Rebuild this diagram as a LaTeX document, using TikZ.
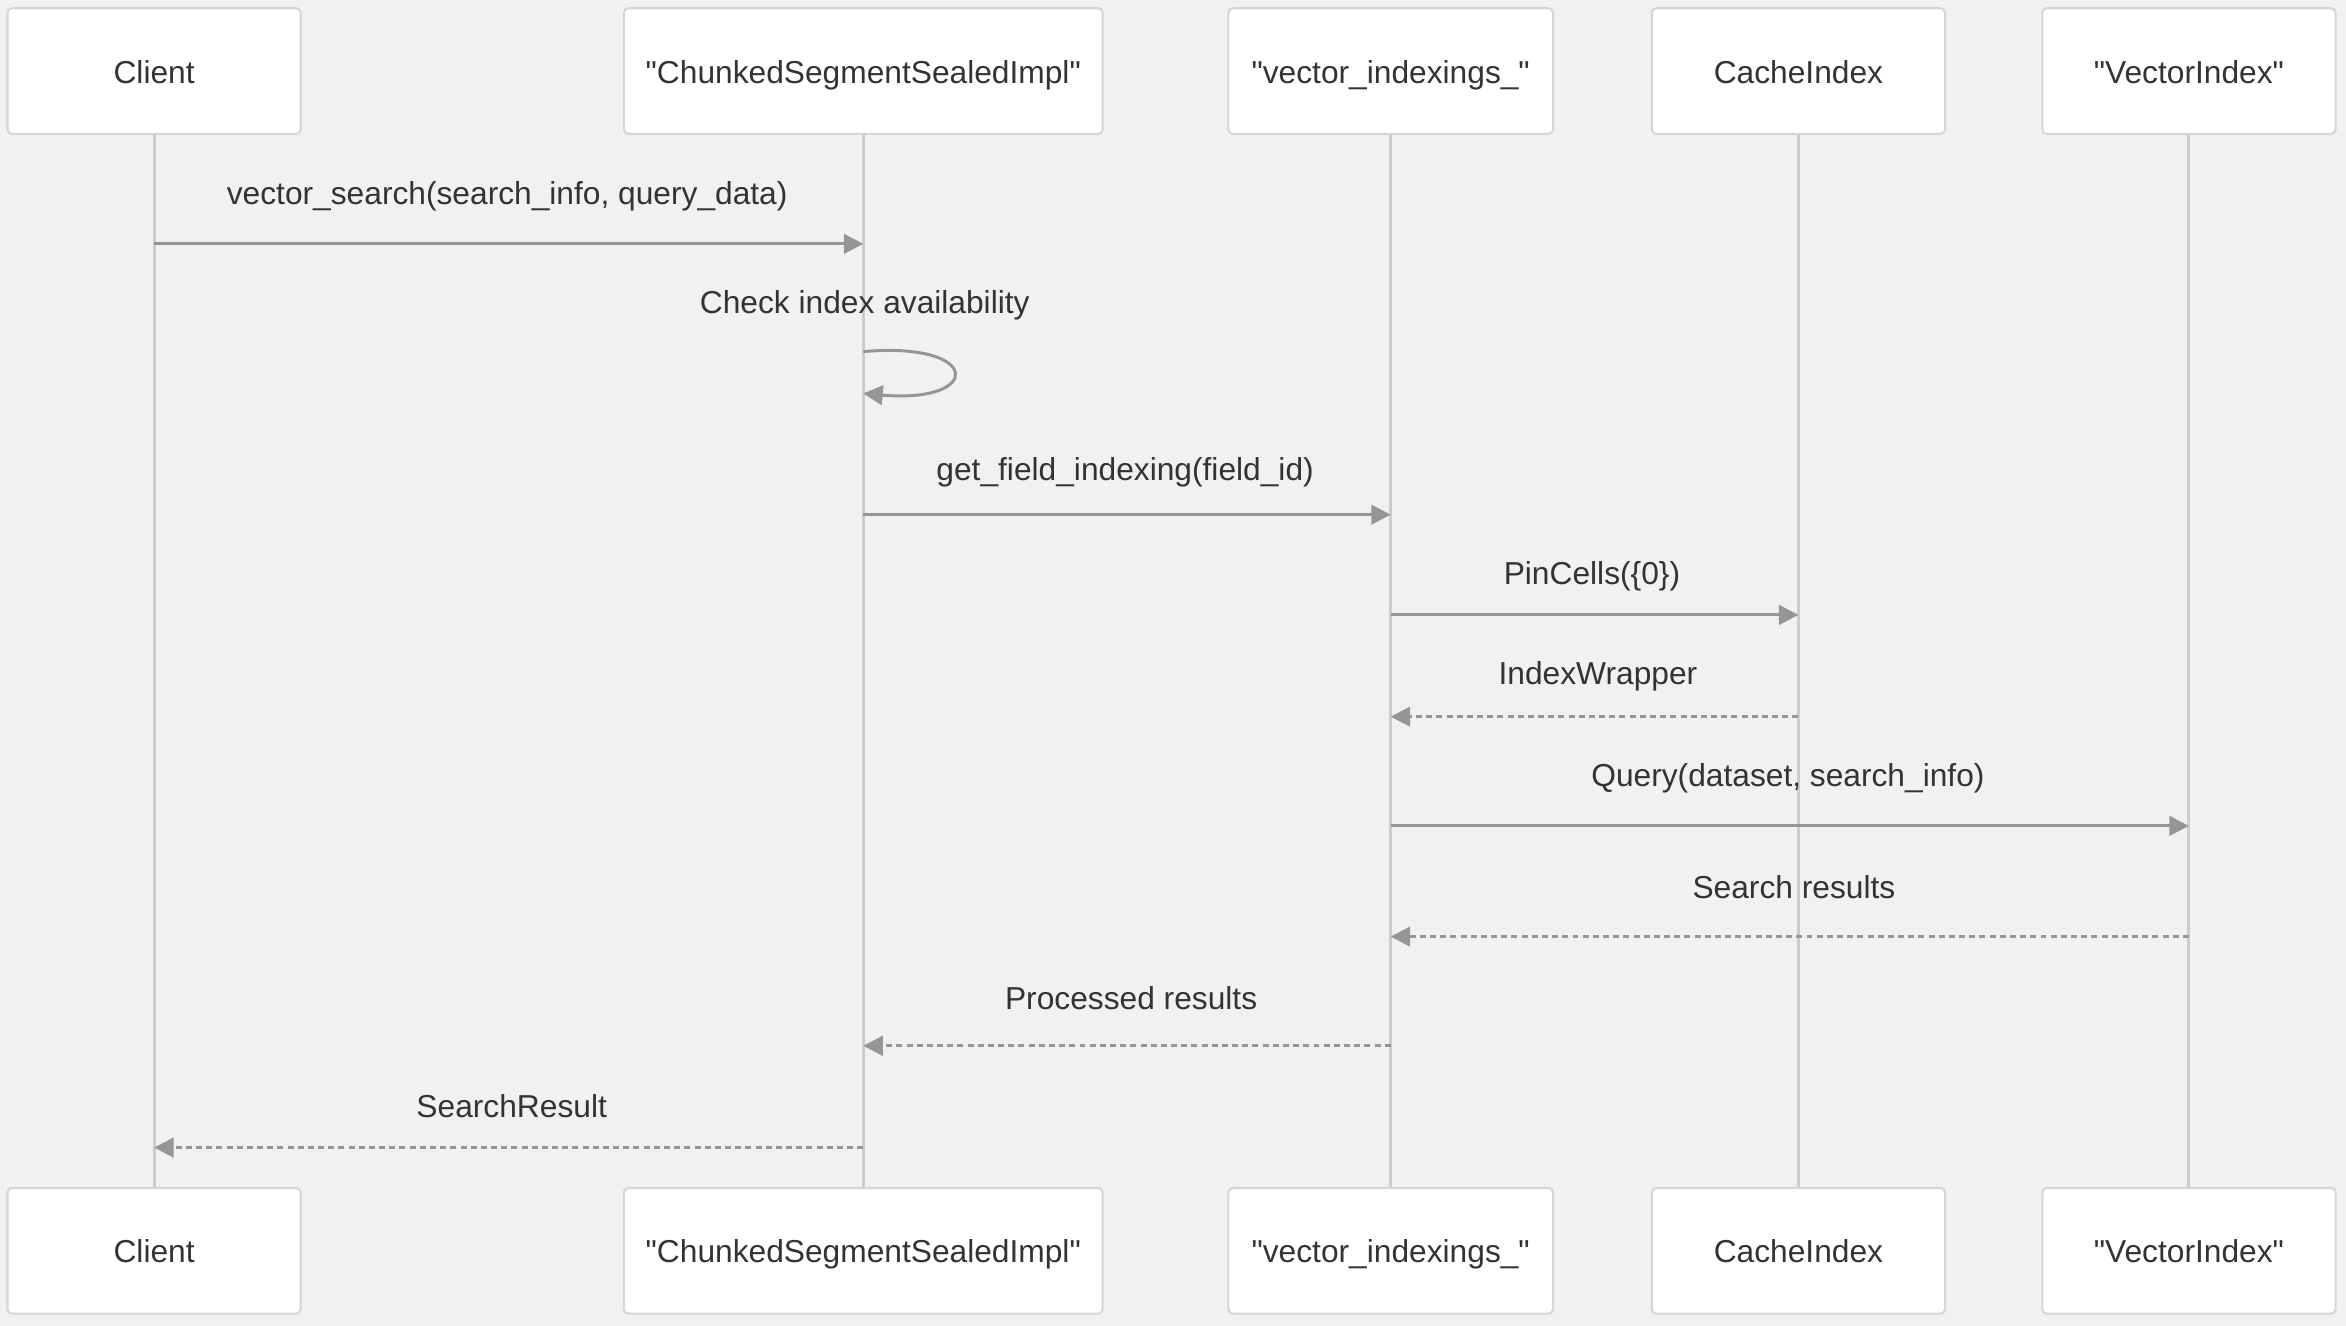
\documentclass[tikz,border=0pt]{standalone}
\usepackage{fontspec}
\setmainfont{Liberation Sans}[Ligatures=TeXOff]
\usetikzlibrary{arrows.meta}
\newcommand\dq{\symbol{34}}
\definecolor{bgc}{RGB}{242,241,239}
\definecolor{boxline}{RGB}{214,214,214}
\definecolor{lifec}{RGB}{204,204,204}
\definecolor{arrc}{RGB}{150,150,150}
\definecolor{txtc}{RGB}{51,51,51}
\begin{document}
\begin{tikzpicture}[x=0.5pt,y=-0.5pt,
  actor/.style={draw=boxline,line width=0.7pt,fill=white,rounded corners=1.5pt,minimum height=42pt,text=txtc,font=\fontsize{10.6}{12}\selectfont,inner sep=0pt,text height=10pt,text depth=1.9pt},
  life/.style={draw=lifec,line width=1pt},
  msg/.style={draw=arrc,line width=1pt,-{Triangle[length=6.5pt,width=6.5pt]}},
  rmsg/.style={msg,dash pattern=on 2pt off 1.4pt},
  lbl/.style={text=txtc,font=\fontsize{10.6}{12}\selectfont,inner sep=0pt}]
\fill[bgc] (0,0) rectangle (1568,886);
\useasboundingbox (0,0) rectangle (1568,886);
% top actors
\node[actor,minimum width=98pt] (c1) at (103,47.5) {Client};
\node[actor,minimum width=160pt] (s1) at (577,47.5) {\dq ChunkedSegmentSealedImpl\dq};
\node[actor,minimum width=108.5pt] (v1) at (929.5,47.5) {\dq vector\_indexings\_\dq};
\node[actor,minimum width=98pt] (k1) at (1202,47.5) {CacheIndex};
\node[actor,minimum width=98pt] (x1) at (1463,47.5) {\dq VectorIndex\dq};
% bottom actors
\node[actor,minimum width=98pt] (c2) at (103,836) {Client};
\node[actor,minimum width=160pt] (s2) at (577,836) {\dq ChunkedSegmentSealedImpl\dq};
\node[actor,minimum width=108.5pt] (v2) at (929.5,836) {\dq vector\_indexings\_\dq};
\node[actor,minimum width=98pt] (k2) at (1202,836) {CacheIndex};
\node[actor,minimum width=98pt] (x2) at (1463,836) {\dq VectorIndex\dq};
% lifelines
\draw[life] (c1.south) -- (c2.north);
\draw[life] (s1.south) -- (s2.north);
\draw[life] (v1.south) -- (v2.north);
\draw[life] (k1.south) -- (k2.north);
\draw[life] (x1.south) -- (x2.north);
% messages
\node[lbl] (l1) at (339,131) {vector\_search(search\_info, query\_data)};
\draw[msg] (c1.south |- 0,163) -- (s1.south |- 0,163);
\node[lbl] (l2) at (578,204) {Check index availability};
\coordinate (sa) at (577,235);
\coordinate (sb) at (577,263);
\draw[msg] (sa) .. controls (657,228) and (657,270) .. (sb);
\node[lbl] (l3) at (752,316) {get\_field\_indexing(field\_id)};
\draw[msg] (s1.south |- 0,344) -- (v1.south |- 0,344);
\node[lbl] (l4) at (1064,385) {PinCells(\{0\})};
\draw[msg] (v1.south |- 0,411) -- (k1.south |- 0,411);
\node[lbl] (l5) at (1068,452) {IndexWrapper};
\draw[rmsg] (k1.south |- 0,479) -- (v1.south |- 0,479);
\node[lbl] (l6) at (1195,520) {Query(dataset, search\_info)};
\draw[msg] (v1.south |- 0,552) -- (x1.south |- 0,552);
\node[lbl] (l7) at (1199,593) {Search results};
\draw[rmsg] (x1.south |- 0,626) -- (v1.south |- 0,626);
\node[lbl] (l8) at (756,667) {Processed results};
\draw[rmsg] (v1.south |- 0,699) -- (s1.south |- 0,699);
\node[lbl] (l9) at (342,739) {SearchResult};
\draw[rmsg] (s1.south |- 0,767) -- (c1.south |- 0,767);
\end{tikzpicture}
\end{document}
